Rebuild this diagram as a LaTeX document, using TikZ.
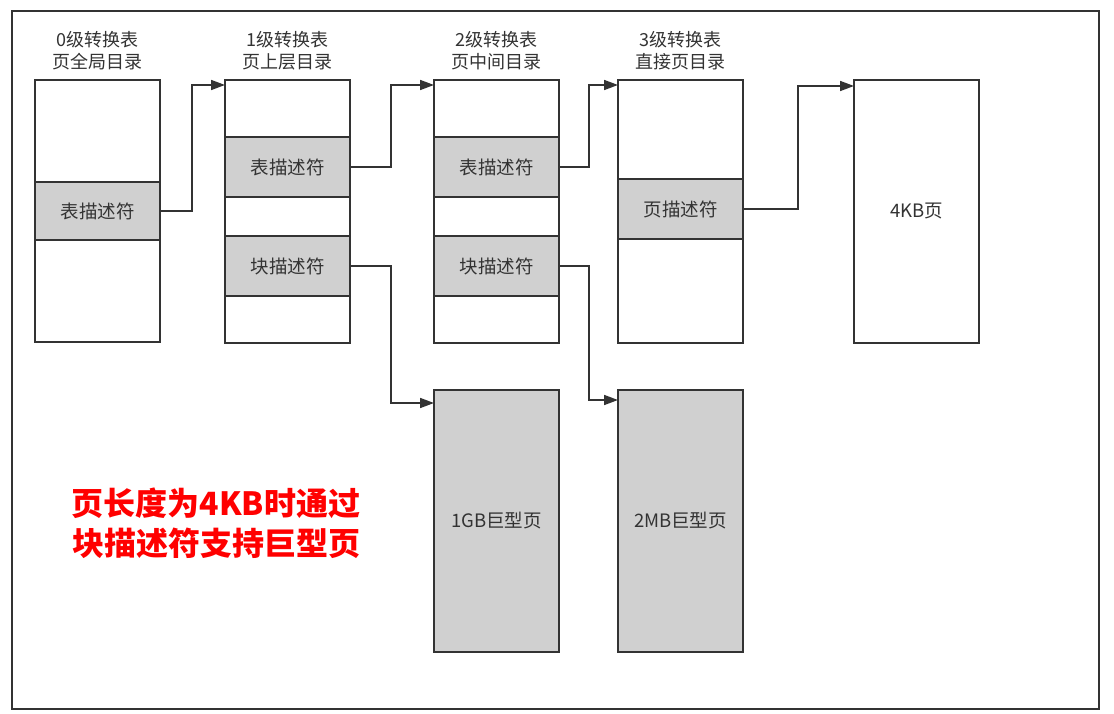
\documentclass[tikz,border=0pt]{standalone}
\usepackage{fontspec}
\setmainfont{Noto Sans CJK SC}
\usetikzlibrary{arrows.meta, positioning}
\definecolor{linegray}{RGB}{51,51,51}
\definecolor{descfill}{RGB}{208,208,208}
\definecolor{notered}{RGB}{255,0,0}
\tikzset{
  cell/.style={rectangle, draw=linegray, line width=1.6pt, fill=white, minimum width=125pt,
    outer sep=0pt, inner sep=0pt, text=linegray, font=\fontsize{18.5}{21}\selectfont},
  desccell/.style={cell, fill=descfill},
  tabletitle/.style={align=center, text=linegray, inner sep=0pt, font=\fontsize{18}{22}\selectfont},
  link/.style={-{Triangle[length=14pt,width=10pt]}, line width=1.6pt, draw=linegray},
  frame/.style={draw=linegray, line width=1.8pt},
  notetext/.style={align=center, text=notered, font=\bfseries\fontsize{32}{40}\selectfont}
}
\begin{document}
\begin{tikzpicture}[x=1pt, y=-1pt, node distance=0pt]
  \useasboundingbox (0,0) rectangle (1114,714);
  \draw[frame] (12,11) rectangle (1099,709);

  % level 0
  \node[cell, minimum height=102pt, anchor=north west] (t0a) at (35,80) {};
  \node[desccell, minimum height=58pt, below=of t0a] (t0b) {表描述符};
  \node[cell, minimum height=102pt, below=of t0b] (t0c) {};
  \node[tabletitle, above=10pt of t0a] (h0) {0级转换表\\页全局目录};

  % level 1
  \node[cell, minimum height=57pt, anchor=north west] (t1a) at (225,80) {};
  \node[desccell, minimum height=60pt, below=of t1a] (t1b) {表描述符};
  \node[cell, minimum height=39pt, below=of t1b] (t1c) {};
  \node[desccell, minimum height=60pt, below=of t1c] (t1d) {块描述符};
  \node[cell, minimum height=47pt, below=of t1d] (t1e) {};
  \node[tabletitle, above=10pt of t1a] (h1) {1级转换表\\页上层目录};

  % level 2
  \node[cell, minimum height=57pt, anchor=north west] (t2a) at (434,80) {};
  \node[desccell, minimum height=60pt, below=of t2a] (t2b) {表描述符};
  \node[cell, minimum height=39pt, below=of t2b] (t2c) {};
  \node[desccell, minimum height=60pt, below=of t2c] (t2d) {块描述符};
  \node[cell, minimum height=47pt, below=of t2d] (t2e) {};
  \node[tabletitle, above=10pt of t2a] (h2) {2级转换表\\页中间目录};

  % level 3
  \node[cell, minimum height=99pt, anchor=north west] (t3a) at (618,80) {};
  \node[desccell, minimum height=60pt, below=of t3a] (t3b) {页描述符};
  \node[cell, minimum height=104pt, below=of t3b] (t3c) {};
  \node[tabletitle, above=10pt of t3a] (h3) {3级转换表\\直接页目录};

  % pages
  \node[cell, minimum height=263pt, anchor=north west] (p4k) at (854,80) {4KB页};
  \node[desccell, minimum height=262pt, below=47pt of t2e] (p1g) {1GB巨型页};
  \node[desccell, minimum height=262pt, below=47pt of t3c] (p2m) {2MB巨型页};

  \draw[link] (t0b.east) -- ++(32,0) |- ([yshift=-5pt]t1a.north west);
  \draw[link] (t1b.east) -- ++(41,0) |- ([yshift=-5pt]t2a.north west);
  \draw[link] (t2b.east) -- ++(30,0) |- ([yshift=-5pt]t3a.north west);
  \draw[link] (t3b.east) -- ++(55,0) |- ([yshift=-6pt]p4k.north west);
  \draw[link] (t1d.east) -- ++(41,0) |- ([yshift=-13pt]p1g.north west);
  \draw[link] (t2d.east) -- ++(30,0) |- ([yshift=-10pt]p2m.north west);

  \node[notetext] (note) at (216,523) {页长度为4KB时通过\\块描述符支持巨型页};
\end{tikzpicture}
\end{document}
